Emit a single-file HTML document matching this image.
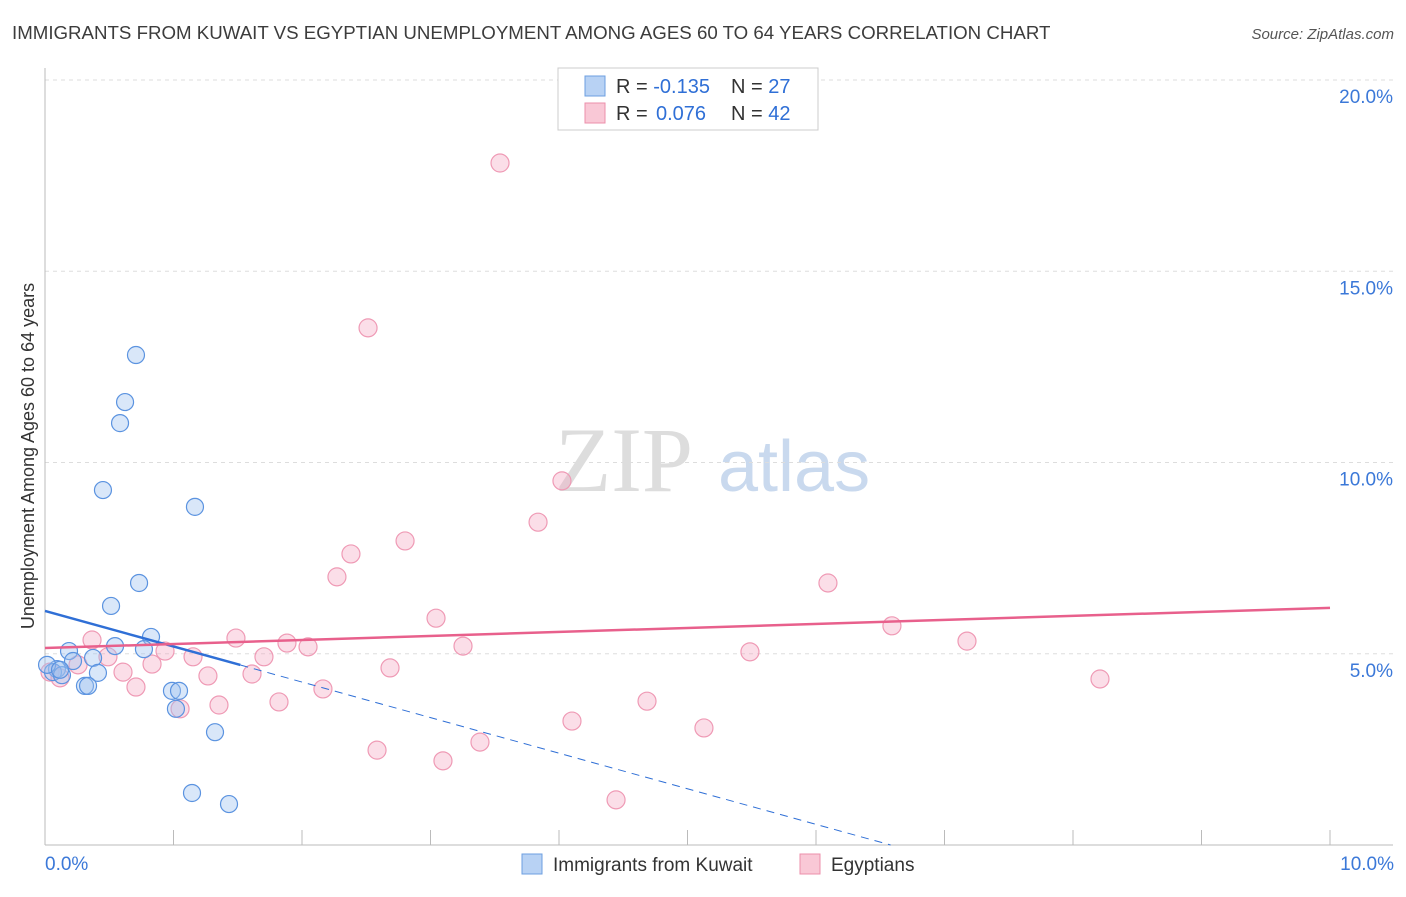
<!DOCTYPE html>
<html><head><meta charset="utf-8"><style>
body{margin:0;background:#fff;font-family:"Liberation Sans",sans-serif;}
</style></head><body>
<svg width="1406" height="892" xmlns="http://www.w3.org/2000/svg" id="chart" style="font-family:'Liberation Sans',sans-serif">
<text x="12" y="39" font-size="18.7" fill="#3c3c3c">IMMIGRANTS FROM KUWAIT VS EGYPTIAN UNEMPLOYMENT AMONG AGES 60 TO 64 YEARS CORRELATION CHART</text>
<text x="1394" y="39" font-size="15" fill="#555" text-anchor="end" font-style="italic">Source: ZipAtlas.com</text>
<text x="0" y="0" transform="translate(34,456) rotate(-90)" text-anchor="middle" font-size="18" fill="#333">Unemployment Among Ages 60 to 64 years</text>
<g><text x="555" y="491" font-size="92" fill="#ddd" font-family="Liberation Serif,serif">ZIP</text><text x="718" y="491" font-size="72" fill="#c9d9ee">atlas</text></g>
<g id="grid"></g><g id="axes"></g><g id="marks"></g>
<g>
<rect x="558" y="68" width="260" height="62" fill="#fff" stroke="#ccc"/>
<rect x="585" y="76" width="20" height="20" fill="#b8d2f4" stroke="#6d9fe0"/>
<rect x="585" y="103" width="20" height="20" fill="#f9c8d6" stroke="#ec8fab"/>
<text x="616" y="93" font-size="20" fill="#333">R = <tspan fill="#2f6fd6">-0.135</tspan><tspan x="731">N = </tspan><tspan fill="#2f6fd6">27</tspan></text>
<text x="616" y="120" font-size="20" fill="#333">R = <tspan fill="#2f6fd6" x="656">0.076</tspan><tspan x="731">N = </tspan><tspan fill="#2f6fd6">42</tspan></text>
</g>
<g>
<rect x="522" y="854" width="20" height="20" fill="#b8d2f4" stroke="#6d9fe0"/>
<text x="553" y="871" font-size="19" fill="#333">Immigrants from Kuwait</text>
<rect x="800" y="854" width="20" height="20" fill="#f9c8d6" stroke="#ec8fab"/>
<text x="831" y="871" font-size="19" fill="#333">Egyptians</text>
</g>
</svg>
<script>
const yTicks=[5,10,15,20];
const yTickLabels=["5.0%","10.0%","15.0%","20.0%"];
const xTickLabels=["0.0%","10.0%"];
const kuwaitX=[0.708,0.623,0.584,0.451,1.167,0.732,0.514,0.825,0.545,0.770,0.187,0.374,0.218,0.093,0.062,0.132,0.412,0.311,0.335,0.988,1.043,1.019,1.323,1.144,1.432,0.016,0.117];
const kuwaitY=[12.81,11.58,11.03,9.28,8.84,6.85,6.25,5.44,5.20,5.12,5.07,4.89,4.81,4.60,4.52,4.44,4.50,4.16,4.16,4.03,4.03,3.56,2.95,1.36,1.07,4.71,4.58];
const egyX=[3.541,2.514,4.023,3.837,2.802,2.381,2.272,6.093,3.043,6.591,7.175,1.486,1.883,2.047,3.253,0.366,0.934,5.486,1.704,1.152,0.833,0.490,0.257,2.685,0.607,1.611,8.210,1.268,0.708,2.163,1.821,4.685,1.354,1.051,4.101,5.128,2.584,3.385,3.097,4.444,0.039,0.117];
const egyY=[17.83,13.52,9.52,8.44,7.95,7.61,7.01,6.85,5.93,5.73,5.33,5.41,5.28,5.18,5.20,5.36,5.07,5.05,4.92,4.92,4.73,4.92,4.71,4.63,4.52,4.47,4.34,4.42,4.13,4.08,3.74,3.76,3.66,3.56,3.24,3.06,2.48,2.69,2.20,1.18,4.52,4.37];
const kuwaitFit=[6.12,-0.93];
const egyFit=[5.15,0.105];
const X=v=>45+v*128.5, Y=v=>845-v*38.25;
const NS="http://www.w3.org/2000/svg";
function mk(p,t,a){const e=document.createElementNS(NS,t);for(const k in a)e.setAttribute(k,a[k]);p.appendChild(e);return e;}
const grid=document.getElementById('grid'),axes=document.getElementById('axes'),marks=document.getElementById('marks');
yTicks.forEach((t,i)=>{const l=mk(grid,'line',{x1:45,x2:1393,y1:Y(t),y2:Y(t),stroke:'#ddd','stroke-dasharray':'4,4'});


const tx=mk(axes,'text',{x:1393,y:Y(t)+23,'font-size':19,fill:'#3b78d8','text-anchor':'end'});tx.textContent=yTickLabels[i];

});
mk(axes,'line',{x1:45,x2:45,y1:68,y2:845,stroke:'#bbb'});
mk(axes,'line',{x1:45,x2:1393,y1:845,y2:845,stroke:'#bbb'});
for(let i=1;i<=10;i++){mk(axes,'line',{x1:X(i),x2:X(i),y1:830,y2:845,stroke:'#bbb'});}
const xl0=mk(axes,'text',{x:45,y:870,'font-size':19,fill:'#3b78d8'});xl0.textContent=xTickLabels[0];


const xl1=mk(axes,'text',{x:1394,y:870,'font-size':19,fill:'#3b78d8','text-anchor':'end'});xl1.textContent=xTickLabels[1];


egyX.forEach((x,i)=>{const c=mk(marks,'circle',{cx:X(x),cy:Y(egyY[i]),r:9,fill:'rgba(244,160,188,0.35)',stroke:'#ef9ab5','stroke-width':1.2});

});
kuwaitX.forEach((x,i)=>{const c=mk(marks,'circle',{cx:X(x),cy:Y(kuwaitY[i]),r:8.5,fill:'rgba(160,195,240,0.4)',stroke:'#5b93e0','stroke-width':1.2});

});
const kx1=1.52,kx2=-kuwaitFit[0]/kuwaitFit[1];
const kl=mk(marks,'line',{x1:X(0),y1:Y(kuwaitFit[0]),x2:X(kx1),y2:Y(kuwaitFit[0]+kuwaitFit[1]*kx1),stroke:'#2f6fd6','stroke-width':2.5});


const kd=mk(marks,'line',{x1:X(kx1),y1:Y(kuwaitFit[0]+kuwaitFit[1]*kx1),x2:X(kx2),y2:Y(0),stroke:'#2f6fd6','stroke-width':1,'stroke-dasharray':'8,6'});


const el=mk(marks,'line',{x1:X(0),y1:Y(egyFit[0]),x2:X(10),y2:Y(egyFit[0]+egyFit[1]*10),stroke:'#e8608c','stroke-width':2.5});


</script>
</body></html>
